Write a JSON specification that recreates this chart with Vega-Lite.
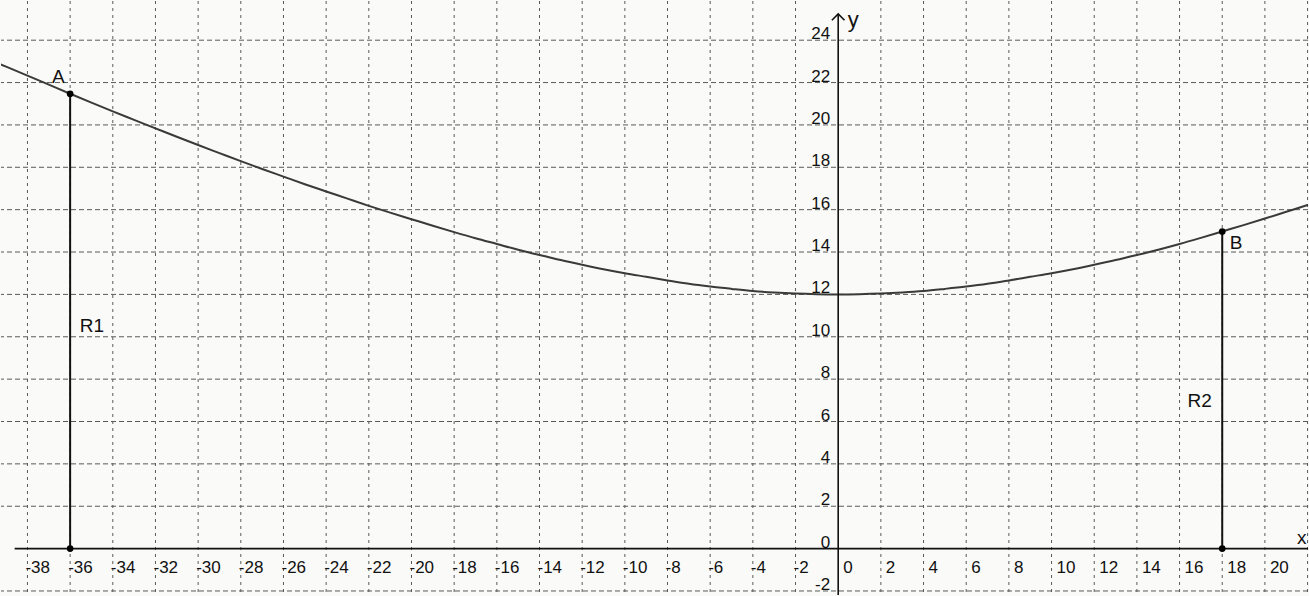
{
  "$schema": "https://vega.github.io/schema/vega-lite/v6.json",
  "width": 1309,
  "height": 596,
  "autosize": {"type": "fit", "contains": "padding"},
  "padding": 0,
  "background": "#fafaf8",
  "config": {"view": {"stroke": null}, "font": "Liberation Sans"},
  "datasets": {
    "curve": [
      {"x": -40, "y": 23.15}, {"x": -39, "y": 22.75}, {"x": -38, "y": 22.33}, {"x": -37, "y": 21.9},
      {"x": -36, "y": 21.47}, {"x": -35, "y": 21.05}, {"x": -34, "y": 20.64}, {"x": -33, "y": 20.24},
      {"x": -32, "y": 19.84}, {"x": -31, "y": 19.44}, {"x": -30, "y": 19.05}, {"x": -29, "y": 18.67},
      {"x": -28, "y": 18.29}, {"x": -27, "y": 17.92}, {"x": -26, "y": 17.56}, {"x": -25, "y": 17.2},
      {"x": -24, "y": 16.86}, {"x": -23, "y": 16.52}, {"x": -22, "y": 16.18}, {"x": -21, "y": 15.86},
      {"x": -20, "y": 15.55}, {"x": -19, "y": 15.24}, {"x": -18, "y": 14.94}, {"x": -17, "y": 14.65},
      {"x": -16, "y": 14.38}, {"x": -15, "y": 14.11}, {"x": -14, "y": 13.86}, {"x": -13, "y": 13.62},
      {"x": -12, "y": 13.4}, {"x": -11, "y": 13.19}, {"x": -10, "y": 13.0}, {"x": -9, "y": 12.83},
      {"x": -8, "y": 12.66}, {"x": -7, "y": 12.5}, {"x": -6, "y": 12.37}, {"x": -5, "y": 12.26},
      {"x": -4, "y": 12.16}, {"x": -3, "y": 12.09}, {"x": -2, "y": 12.04}, {"x": -1, "y": 12.01},
      {"x": 0, "y": 12.0}, {"x": 1, "y": 12.01}, {"x": 2, "y": 12.04}, {"x": 3, "y": 12.09},
      {"x": 4, "y": 12.16}, {"x": 5, "y": 12.26}, {"x": 6, "y": 12.37}, {"x": 7, "y": 12.5},
      {"x": 8, "y": 12.66}, {"x": 9, "y": 12.83}, {"x": 10, "y": 13.0}, {"x": 11, "y": 13.19},
      {"x": 12, "y": 13.4}, {"x": 13, "y": 13.62}, {"x": 14, "y": 13.86}, {"x": 15, "y": 14.11},
      {"x": 16, "y": 14.38}, {"x": 17, "y": 14.67}, {"x": 18, "y": 14.97}, {"x": 19, "y": 15.27},
      {"x": 20, "y": 15.58}, {"x": 21, "y": 15.9}, {"x": 22, "y": 16.22}, {"x": 23, "y": 16.55}
    ],
    "xgrid": [
      {"v": -38}, {"v": -36}, {"v": -34}, {"v": -32}, {"v": -30}, {"v": -28}, {"v": -26}, {"v": -24},
      {"v": -22}, {"v": -20}, {"v": -18}, {"v": -16}, {"v": -14}, {"v": -12}, {"v": -10}, {"v": -8},
      {"v": -6}, {"v": -4}, {"v": -2}, {"v": 2}, {"v": 4}, {"v": 6}, {"v": 8}, {"v": 10},
      {"v": 12}, {"v": 14}, {"v": 16}, {"v": 18}, {"v": 20}, {"v": 22}
    ],
    "ygrid": [
      {"v": -2}, {"v": 2}, {"v": 4}, {"v": 6}, {"v": 8}, {"v": 10}, {"v": 12}, {"v": 14},
      {"v": 16}, {"v": 18}, {"v": 20}, {"v": 22}, {"v": 24}
    ],
    "segments": [
      {"name": "R1", "x": -36, "y0": 0, "y1": 21.47},
      {"name": "R2", "x": 18, "y0": 0, "y1": 14.97}
    ],
    "points": [
      {"x": -36, "y": 21.47}, {"x": -36, "y": 0}, {"x": 18, "y": 14.97}, {"x": 18, "y": 0}
    ],
    "names": [
      {"t": "A", "x": -36.85, "y": 21.98},
      {"t": "B", "x": 18.35, "y": 14.14},
      {"t": "R1", "x": -35.55, "y": 10.24},
      {"t": "R2", "x": 16.37, "y": 6.67},
      {"t": "x", "x": 21.5, "y": 0.22}
    ],
    "xlabels": [
      {"v": -38, "t": "-38"}, {"v": -36, "t": "-36"}, {"v": -34, "t": "-34"}, {"v": -32, "t": "-32"},
      {"v": -30, "t": "-30"}, {"v": -28, "t": "-28"}, {"v": -26, "t": "-26"}, {"v": -24, "t": "-24"},
      {"v": -22, "t": "-22"}, {"v": -20, "t": "-20"}, {"v": -18, "t": "-18"}, {"v": -16, "t": "-16"},
      {"v": -14, "t": "-14"}, {"v": -12, "t": "-12"}, {"v": -10, "t": "-10"}, {"v": -8, "t": "-8"},
      {"v": -6, "t": "-6"}, {"v": -4, "t": "-4"}, {"v": -2, "t": "-2"}, {"v": 0, "t": "0"},
      {"v": 2, "t": "2"}, {"v": 4, "t": "4"}, {"v": 6, "t": "6"}, {"v": 8, "t": "8"},
      {"v": 10, "t": "10"}, {"v": 12, "t": "12"}, {"v": 14, "t": "14"}, {"v": 16, "t": "16"},
      {"v": 18, "t": "18"}, {"v": 20, "t": "20"}
    ],
    "ylabels": [
      {"v": -2, "t": "-2"}, {"v": 0, "t": "0"}, {"v": 2, "t": "2"}, {"v": 4, "t": "4"},
      {"v": 6, "t": "6"}, {"v": 8, "t": "8"}, {"v": 10, "t": "10"}, {"v": 12, "t": "12"},
      {"v": 14, "t": "14"}, {"v": 16, "t": "16"}, {"v": 18, "t": "18"}, {"v": 20, "t": "20"},
      {"v": 22, "t": "22"}, {"v": 24, "t": "24"}
    ],
    "axes": [
      {"name": "xaxis", "x": -38.6, "x2": 23, "y": 0, "y2": 0},
      {"name": "yaxis", "x": 0, "x2": 0, "y": -3, "y2": 25.24}
    ],
    "arrow": [{"x": 0, "y": 25.24}]
  },
  "layer": [
    {
      "data": {"name": "xgrid"},
      "mark": {"type": "rule", "color": "#5a5a5a", "strokeWidth": 1, "strokeDash": [3, 4]},
      "encoding": {
        "x": {"field": "v", "type": "quantitative", "axis": null,
          "scale": {"domain": [-39.24, 22.02], "nice": false, "zero": false}}
      }
    },
    {
      "data": {"name": "ygrid"},
      "mark": {"type": "rule", "color": "#5a5a5a", "strokeWidth": 1, "strokeDash": [5, 3]},
      "encoding": {
        "y": {"field": "v", "type": "quantitative", "axis": null,
          "scale": {"domain": [-2.19, 25.85], "nice": false, "zero": false}}
      }
    },
    {
      "data": {"name": "curve"},
      "mark": {"type": "line", "color": "#3a3a3a", "strokeWidth": 2, "interpolate": "monotone", "clip": true},
      "encoding": {
        "x": {"field": "x", "type": "quantitative", "axis": null},
        "y": {"field": "y", "type": "quantitative", "axis": null},
        "order": {"field": "x", "type": "quantitative"}
      }
    },
    {
      "data": {"name": "axes"},
      "mark": {"type": "rule", "color": "#111111", "strokeWidth": 1.6, "clip": true},
      "encoding": {
        "x": {"field": "x", "type": "quantitative", "axis": null},
        "x2": {"field": "x2"},
        "y": {"field": "y", "type": "quantitative", "axis": null},
        "y2": {"field": "y2"}
      }
    },
    {
      "data": {"name": "arrow"},
      "mark": {"type": "point", "shape": "M -1 1 L 0 0 L 1 1", "filled": false, "stroke": "#111111", "strokeWidth": 1.6, "size": 160, "opacity": 1},
      "encoding": {
        "x": {"field": "x", "type": "quantitative", "axis": null},
        "y": {"field": "y", "type": "quantitative", "axis": null}
      }
    },
    {
      "data": {"name": "segments"},
      "mark": {"type": "rule", "color": "#111111", "strokeWidth": 2},
      "encoding": {
        "x": {"field": "x", "type": "quantitative", "axis": null},
        "y": {"field": "y0", "type": "quantitative", "axis": null},
        "y2": {"field": "y1"}
      }
    },
    {
      "data": {"name": "points"},
      "mark": {"type": "circle", "color": "#000000", "size": 45, "opacity": 1},
      "encoding": {
        "x": {"field": "x", "type": "quantitative", "axis": null},
        "y": {"field": "y", "type": "quantitative", "axis": null}
      }
    },
    {
      "data": {"name": "names"},
      "mark": {"type": "text", "align": "left", "baseline": "alphabetic", "fontSize": 19, "color": "#111111"},
      "encoding": {
        "x": {"field": "x", "type": "quantitative", "axis": null},
        "y": {"field": "y", "type": "quantitative", "axis": null},
        "text": {"field": "t"}
      }
    },
    {
      "data": {"values": [{"t": "y", "x": 0.45, "y": 24.64}]},
      "mark": {"type": "text", "align": "left", "baseline": "alphabetic", "fontSize": 22, "color": "#111111"},
      "encoding": {
        "x": {"field": "x", "type": "quantitative", "axis": null},
        "y": {"field": "y", "type": "quantitative", "axis": null},
        "text": {"field": "t"}
      }
    },
    {
      "data": {"name": "xlabels"},
      "transform": [{"filter": "datum.v < 0"}],
      "mark": {"type": "text", "align": "left", "baseline": "alphabetic", "fontSize": 17, "dx": -2, "dy": 24, "color": "#111111"},
      "encoding": {
        "x": {"field": "v", "type": "quantitative", "axis": null},
        "y": {"datum": 0, "type": "quantitative", "axis": null},
        "text": {"field": "t"}
      }
    },
    {
      "data": {"name": "xlabels"},
      "transform": [{"filter": "datum.v >= 0"}],
      "mark": {"type": "text", "align": "left", "baseline": "alphabetic", "fontSize": 17, "dx": 5, "dy": 24, "color": "#111111"},
      "encoding": {
        "x": {"field": "v", "type": "quantitative", "axis": null},
        "y": {"datum": 0, "type": "quantitative", "axis": null},
        "text": {"field": "t"}
      }
    },
    {
      "data": {"name": "ylabels"},
      "mark": {"type": "text", "align": "right", "baseline": "alphabetic", "fontSize": 17, "dx": -8, "dy": -1, "color": "#111111"},
      "encoding": {
        "x": {"datum": 0, "type": "quantitative", "axis": null},
        "y": {"field": "v", "type": "quantitative", "axis": null},
        "text": {"field": "t"}
      }
    }
  ]
}
